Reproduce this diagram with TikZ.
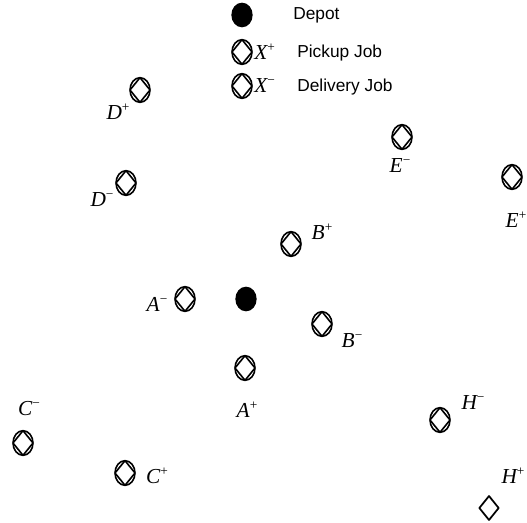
\documentclass[tikz,border=0pt]{standalone}
\usepackage{fontspec}
\setmainfont{Liberation Sans}
\newfontfamily\timesf{Liberation Serif}
\usetikzlibrary{shapes.geometric}
\newcommand{\plbl}[2]{{\timesf\itshape #1}{\timesf\fontsize{10}{10}\selectfont\raisebox{6pt}{#2}}}

\begin{document}
\begin{tikzpicture}[line cap=round,line join=round,x=0.75pt,y=-0.75pt,
    jobnode/.style={draw,ellipse,line width=1.2pt,inner sep=0pt,minimum width=15pt,minimum height=18.5pt,
      path picture={\draw[line width=1.2pt] (path picture bounding box.north) -- (path picture bounding box.east)
        -- (path picture bounding box.south) -- (path picture bounding box.west) -- cycle;}},
    barejob/.style={draw,diamond,aspect=0.8,line width=1.3pt,inner sep=0pt,minimum width=15pt,minimum height=18.5pt},
    depotnode/.style={ellipse,fill=black,inner sep=0pt,minimum width=16pt,minimum height=18.5pt},
    lbl/.style={inner sep=0pt,font=\fontsize{16}{18}\selectfont},
    legtext/.style={inner sep=0pt,anchor=west,font=\fontsize{13}{15}\selectfont}]
  \useasboundingbox (0,0) rectangle (527,523);
  % legend
  \node[depotnode] (legdepot) at (242,15) {};
  \node[legtext] (legdepottxt) at (293,15) {Depot};
  \node[jobnode] (legpick) at (242,52) {};
  \node[lbl,anchor=west] (legpickx) at (254,52) {\plbl{X}{+}};
  \node[legtext] (legpicktxt) at (297,53) {Pickup Job};
  \node[jobnode] (legdel) at (242,86) {};
  \node[lbl,anchor=west] (legdelx) at (254,86) {\plbl{X}{−}};
  \node[legtext] (legdeltxt) at (297,87) {Delivery Job};

  % depot and jobs
  \node[depotnode] (depot) at (246,299) {};
  \node[jobnode] (dplus) at (140,90) {};
  \node[lbl] (dplusl) at (118,112) {\plbl{D}{+}};
  \node[jobnode] (dminus) at (126,183) {};
  \node[lbl] (dminusl) at (102,200) {\plbl{D}{−}};
  \node[jobnode] (eminus) at (402,137) {};
  \node[lbl] (eminusl) at (400,166) {\plbl{E}{−}};
  \node[jobnode] (eplus) at (512,177) {};
  \node[lbl] (eplusl) at (516,220) {\plbl{E}{+}};
  \node[jobnode] (bplus) at (291,244) {};
  \node[lbl] (bplusl) at (322,232) {\plbl{B}{+}};
  \node[jobnode] (aminus) at (185,299) {};
  \node[lbl] (aminusl) at (157,304) {\plbl{A}{−}};
  \node[jobnode] (bminus) at (322,324) {};
  \node[lbl] (bminusl) at (352,341) {\plbl{B}{−}};
  \node[jobnode] (aplus) at (245,368) {};
  \node[lbl] (aplusl) at (247,410) {\plbl{A}{+}};
  \node[jobnode] (cminus) at (23,443) {};
  \node[lbl] (cminusl) at (29,409) {\plbl{C}{−}};
  \node[jobnode] (cplus) at (125,473) {};
  \node[lbl] (cplusl) at (157,476) {\plbl{C}{+}};
  \node[jobnode] (hminus) at (440,420) {};
  \node[lbl] (hminusl) at (473,403) {\plbl{H}{−}};
  \node[barejob] (hplus) at (489,508) {};
  \node[lbl] (hplusl) at (513,476) {\plbl{H}{+}};
\end{tikzpicture}
\end{document}
